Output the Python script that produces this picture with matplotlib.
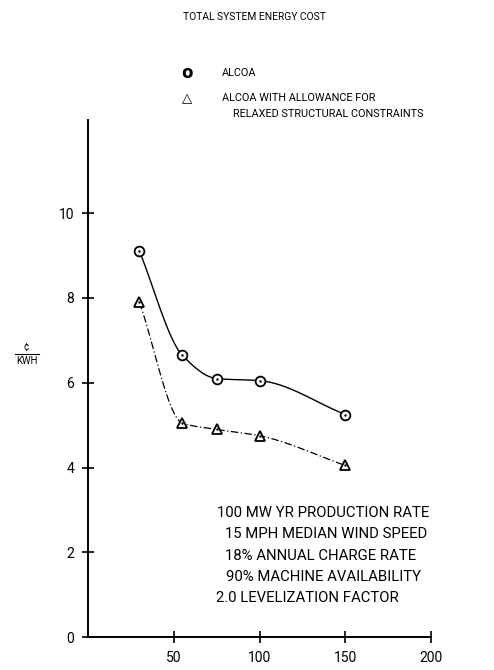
import numpy as np
import matplotlib
matplotlib.use("Agg")
from matplotlib import pyplot as plt

# data
rated_power = [30, 55, 75, 100, 150]
alcoa_cost = [9.1, 6.65, 6.1, 6.05, 5.25]
relaxed_cost = [7.9, 5.05, 4.9, 4.75, 4.05]

x_ticks = [50, 100, 150, 200]
y_ticks = [0, 2, 4, 6, 8, 10]

notes = [
    "100 MW YR PRODUCTION RATE",
    "15 MPH MEDIAN WIND SPEED",
    "18% ANNUAL CHARGE RATE",
    "90% MACHINE AVAILABILITY",
    "2.0 LEVELIZATION FACTOR",
]

plt.rcParams["font.family"] = ["Roboto", "DejaVu Sans"]


def smooth(x, y, n=30):
    # monotone cubic (Fritsch-Carlson) through the points, for drawing only
    x = np.asarray(x, float)
    y = np.asarray(y, float)
    h = np.diff(x)
    d = np.diff(y) / h
    m = np.zeros_like(y)
    m[0], m[-1] = d[0], d[-1]
    for i in range(1, len(x) - 1):
        if d[i - 1] * d[i] <= 0:
            m[i] = 0
        else:
            w1 = 2 * h[i] + h[i - 1]
            w2 = h[i] + 2 * h[i - 1]
            m[i] = (w1 + w2) / (w1 / d[i - 1] + w2 / d[i])
    xs, ys = [], []
    t = np.linspace(0, 1, n)
    for i in range(len(x) - 1):
        h00 = 2 * t ** 3 - 3 * t ** 2 + 1
        h10 = t ** 3 - 2 * t ** 2 + t
        h01 = -2 * t ** 3 + 3 * t ** 2
        h11 = t ** 3 - t ** 2
        xs.extend(x[i] + t * h[i])
        ys.extend(h00 * y[i] + h10 * h[i] * m[i] + h01 * y[i + 1] + h11 * h[i] * m[i + 1])
    return xs, ys


fig = plt.figure(figsize=(4.94, 6.7), dpi=100)
ax = fig.add_axes([0.178, 0.049, 0.695, 0.772])
ax.set_xlim(0, 200)
ax.set_ylim(0, 12.2)

for s in ("top", "right"):
    ax.spines[s].set_visible(False)
for s in ("left", "bottom"):
    ax.spines[s].set_linewidth(1.4)

ax.set_xticks(x_ticks)
ax.set_yticks(y_ticks)
ax.tick_params(direction="inout", length=8, width=1.2, labelsize=10, pad=6)

cx, cy = smooth(rated_power, alcoa_cost)
ax.plot(cx, cy, color="black", lw=1.0)
ax.plot(rated_power, alcoa_cost, "o", ms=7, mfc="white", mec="black", mew=1.3)

tx, ty = smooth(rated_power, relaxed_cost)
ax.plot(tx, ty, color="black", lw=0.9, linestyle=(0, (6, 2, 1, 2)))
ax.plot(rated_power, relaxed_cost, "^", ms=7.5, mfc="white", mec="black", mew=1.3)

# centre dots in markers
ax.plot(rated_power, alcoa_cost, ".", ms=1.5, color="black")
ax.plot(rated_power, relaxed_cost, ".", ms=1.5, color="black")

fs = 7.8
# title and legend
fig.text(0.37, 0.974, "TOTAL SYSTEM ENERGY COST", fontsize=7.4, va="center")
fig.text(0.378, 0.891, "o", fontsize=12, va="center", ha="center", fontweight="bold",
         family="DejaVu Sans")
fig.text(0.449, 0.891, "ALCOA", fontsize=fs, va="center")
fig.text(0.378, 0.853, "\u25b3", fontsize=9.5, va="center", ha="center",
         family="DejaVu Sans")
fig.text(0.449, 0.853, "ALCOA WITH ALLOWANCE FOR", fontsize=fs, va="center")
fig.text(0.472, 0.830, "RELAXED STRUCTURAL CONSTRAINTS", fontsize=fs, va="center")

# y unit label
fig.text(0.054, 0.483, "\u00a2", fontsize=7, ha="center", va="center")
fig.add_artist(plt.Line2D([0.03, 0.079], [0.4715, 0.4715], color="black", lw=0.8))
fig.text(0.054, 0.461, "KWH", fontsize=7, ha="center", va="center")

# conditions block
left_px = [217, 225, 225, 226, 216]
for i, line in enumerate(notes):
    fig.text(left_px[i] / 494, 1 - (513 + 21.3 * i) / 670, line,
             fontsize=10.7, va="center")

fig.savefig("out.png", dpi=100)
